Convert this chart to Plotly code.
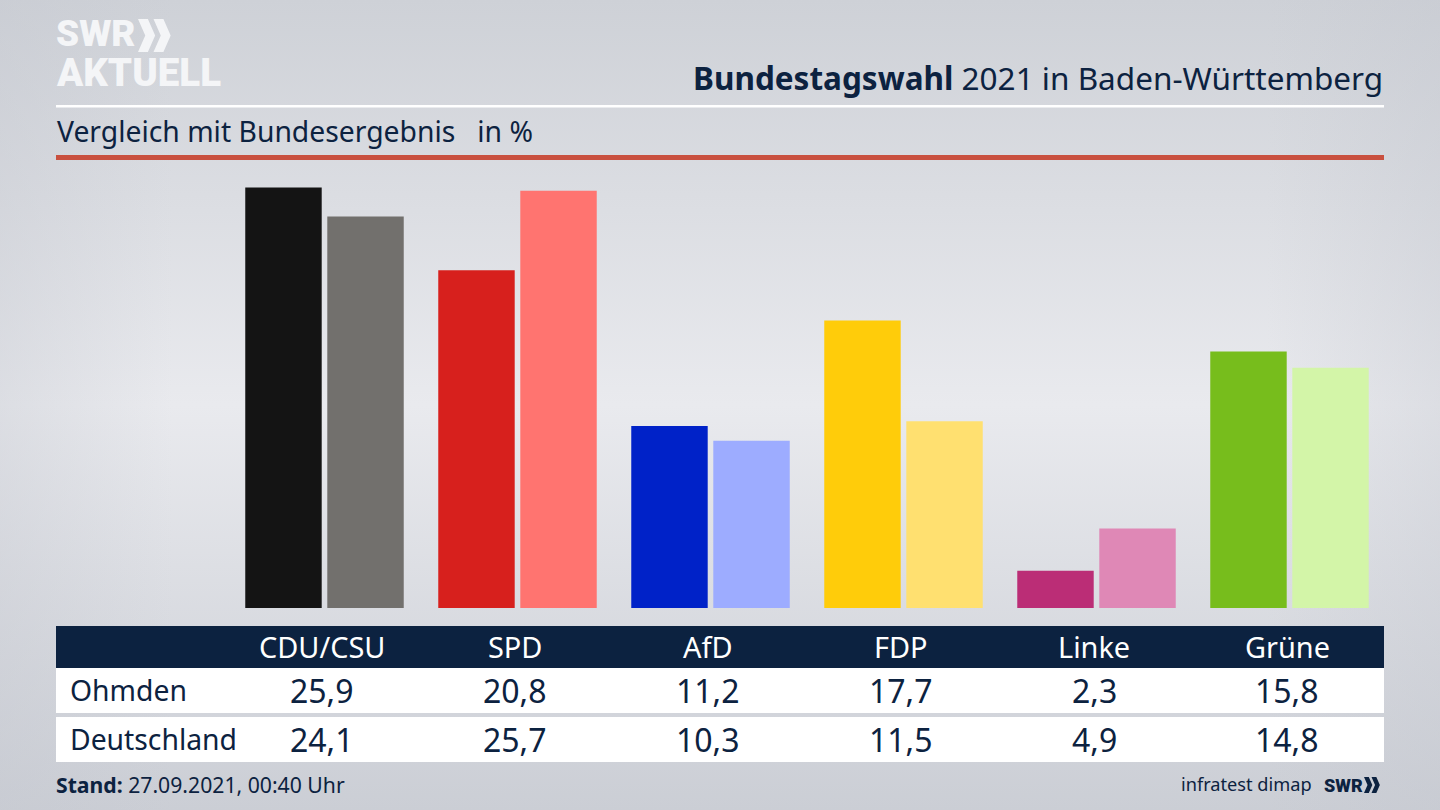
import base64
import plotly.graph_objects as go

parties = ["CDU/CSU", "SPD", "AfD", "FDP", "Linke", "Grüne"]
ohmden = [25.9, 20.8, 11.2, 17.7, 2.3, 15.8]
deutschland = [24.1, 25.7, 10.3, 11.5, 4.9, 14.8]
ohmden_colors = ["#141414", "#d7201d", "#0022c8", "#ffcc0a", "#bb2d76", "#77bd1c"]
deutschland_colors = ["#72706d", "#ff7470", "#9dacff", "#ffe070", "#df88b6", "#d3f5a8"]

W, H = 1440, 810
NAVY = "#0c2240"
FONT = "Noto Sans"
LOGO = "Roboto"


def px(x):
    return x / W


def py(y):
    return 1 - y / H


def fmt(v):
    return f"{v:.1f}".replace(".", ",")


def rect(x0, y0, x1, y1, color):
    return dict(type="rect", xref="paper", yref="paper", layer="below",
                x0=px(x0), x1=px(x1), y0=py(y1), y1=py(y0),
                fillcolor=color, line_width=0)


def chevrons(x, y, h, color):
    w = h * 0.52
    t = h * 0.30
    shapes = []
    for k in range(2):
        a = x + k * (w - h * 0.05)
        p = (f"M {px(a)} {py(y)} L {px(a + t)} {py(y)} L {px(a + w)} {py(y + h / 2)} "
             f"L {px(a + t)} {py(y + h)} L {px(a)} {py(y + h)} L {px(a + w - t)} {py(y + h / 2)} Z")
        shapes.append(dict(type="path", xref="paper", yref="paper", path=p,
                           fillcolor=color, line_width=0))
    return shapes


def text(x, y, s, size, color=NAVY, anchor="left", family=FONT, weight=None):
    font = dict(family=family, size=size, color=color)
    if weight:
        font["weight"] = weight
    return dict(xref="paper", yref="paper", x=px(x), y=py(y), text=s, showarrow=False,
                xanchor=anchor, yanchor="middle", font=font)


svg = f"""<svg xmlns='http://www.w3.org/2000/svg' width='{W}' height='{H}'>
<defs>
<linearGradient id='v' x1='0' y1='0' x2='0' y2='1'>
<stop offset='0' stop-color='#ced1d7'/><stop offset='0.5' stop-color='#e9eaee'/>
<stop offset='1' stop-color='#cbced5'/></linearGradient>
<linearGradient id='h' x1='0' y1='0' x2='1' y2='0'>
<stop offset='0' stop-color='#c4c7cf' stop-opacity='0.35'/><stop offset='0.12' stop-color='#c4c7cf' stop-opacity='0'/>
<stop offset='0.88' stop-color='#c4c7cf' stop-opacity='0'/><stop offset='1' stop-color='#c4c7cf' stop-opacity='0.35'/>
</linearGradient></defs>
<rect width='{W}' height='{H}' fill='url(#v)'/><rect width='{W}' height='{H}' fill='url(#h)'/></svg>"""
bg = "data:image/svg+xml;base64," + base64.b64encode(svg.encode()).decode()

fig = go.Figure()
fig.add_bar(x=parties, y=ohmden, name="Ohmden", marker=dict(color=ohmden_colors, line_width=0), hoverinfo="x+y")
fig.add_bar(x=parties, y=deutschland, name="Deutschland", marker=dict(color=deutschland_colors, line_width=0), hoverinfo="x+y")

shapes = [
    rect(56, 105, 1384, 107.5, "#ffffff"),
    rect(56, 155, 1384, 160, "#c9503f"),
    rect(56, 626, 1384, 668, NAVY),
    rect(56, 668, 1384, 713, "#ffffff"),
    rect(56, 717, 1384, 762, "#ffffff"),
]
shapes += chevrons(138, 19, 33, "#f4f5f7")
shapes += chevrons(1364, 777, 16, NAVY)

annotations = [
    text(54, 34, "SWR", 37, "#f4f5f7", family=LOGO, weight=900),
    text(54, 72, "AKTUELL", 38.5, "#f4f5f7", family=LOGO, weight=900),
    text(1385, 77, "<b>Bundestagswahl</b> 2021 in Baden-Württemberg", 31.5, anchor="right"),
    text(55, 131, "Vergleich mit Bundesergebnis&nbsp;&nbsp; in %", 28.3),
    text(68, 690, "Ohmden", 28.3),
    text(68, 739, "Deutschland", 28.3),
    text(54, 784, "<b>Stand:</b> 27.09.2021, 00:40 Uhr", 21.2),
    text(1314, 784, "infratest dimap", 18.2, anchor="right"),
    text(1322, 785, "SWR", 18, family=LOGO, weight=900),
]
for i, p in enumerate(parties):
    rows = ((p, 646, "#ffffff", 28.9), (fmt(ohmden[i]), 690, NAVY, 32), (fmt(deutschland[i]), 739, NAVY, 32))
    for s, y, col, size in rows:
        annotations.append(dict(xref="x", yref="paper", x=p, y=py(y), text=s, showarrow=False,
                                xanchor="center", yanchor="middle", xshift=-2.5,
                                font=dict(family=FONT, size=size, color=col)))

fig.update_layout(
    width=W, height=H, autosize=False,
    margin=dict(l=0, r=0, t=0, b=0),
    paper_bgcolor="#dfe0e5", plot_bgcolor="rgba(0,0,0,0)",
    barmode="group", bargap=0.15, bargroupgap=0.068,
    showlegend=False,
    shapes=shapes, annotations=annotations,
    images=[dict(source=bg, xref="paper", yref="paper", x=0, y=1, sizex=1, sizey=1,
                 xanchor="left", yanchor="top", sizing="stretch", layer="below")],
    xaxis=dict(domain=[px(228), px(1386)], visible=False, categoryorder="array", categoryarray=parties),
    yaxis=dict(domain=[py(608), py(160)], range=[0, 448 / 16.24], visible=False),
)

fig.write_html("out.html", config=dict(displayModeBar=False),
               post_script="document.body.style.margin='0';")
